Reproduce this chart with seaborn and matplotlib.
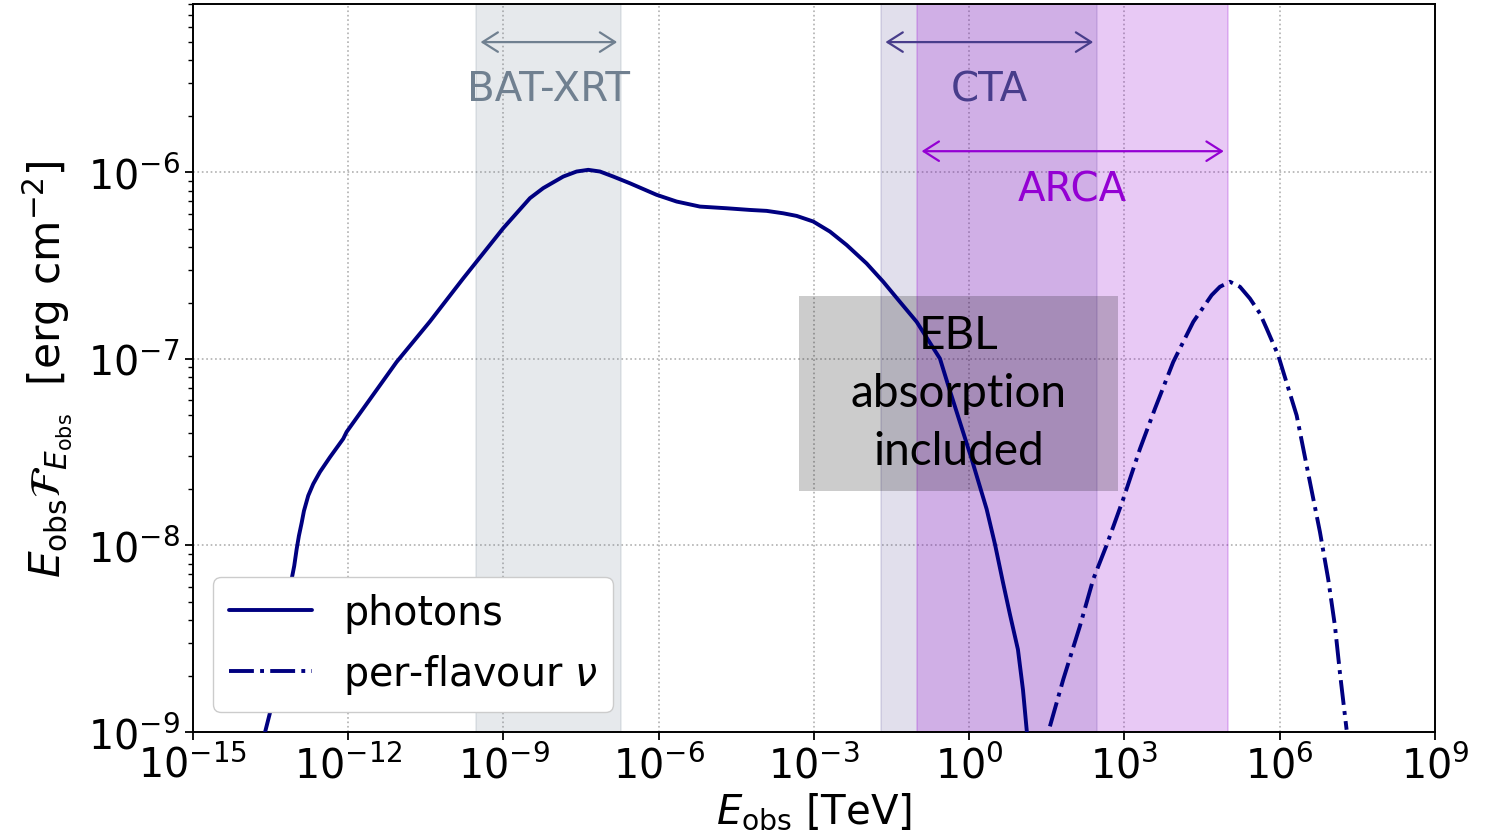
import numpy as np
import pandas as pd
import matplotlib
matplotlib.use("Agg")
import matplotlib.pyplot as plt
import seaborn as sns
from matplotlib.patches import Rectangle
from matplotlib.ticker import LogLocator, NullLocator, FixedLocator

# ---- data (log10 values) ----
photon_logE = [-13.75, -13.609, -13.512, -13.300, -13.093, -13.043, -12.996, -12.952,
               -12.900, -12.855, -12.772, -12.675, -12.546, -12.353, -12.096, -12.030,
               -11.064, -10.420, -9.777, -9.004, -8.488, -8.231, -7.844, -7.586,
               -7.361, -7.135, -6.878, -6.556, -6.040, -5.653, -5.203, -4.687,
               -4.237, -3.914, -3.593, -3.334, -3.014, -2.691, -2.368, -1.982,
               -1.661, -1.338, -1.015, -0.565, -0.405, -0.243, 0.047, 0.337,
               0.498, 0.652, 0.787, 0.942, 1.039, 1.116, 1.15]
photon_logF = [-9.60, -9.004, -8.898, -8.531, -8.181, -8.110, -8.020, -7.948,
               -7.880, -7.815, -7.733, -7.670, -7.606, -7.527, -7.428, -7.391,
               -7.016, -6.799, -6.568, -6.299, -6.138, -6.084, -6.022, -5.995,
               -5.986, -5.995, -6.022, -6.058, -6.120, -6.156, -6.183, -6.192,
               -6.201, -6.206, -6.219, -6.233, -6.263, -6.317, -6.389, -6.488,
               -6.586, -6.694, -6.801, -6.998, -7.142, -7.283, -7.536, -7.805,
               -7.993, -8.197, -8.369, -8.558, -8.773, -9.004, -9.30]

nu_logE = [1.560, 1.817, 2.140, 2.397, 2.656, 2.977, 3.300, 3.589, 3.943, 4.330,
           4.685, 4.845, 5.039, 5.232, 5.425, 5.618, 5.748, 5.972, 6.328, 6.585,
           6.778, 6.938, 7.068, 7.164, 7.293]
nu_logF = [-8.970, -8.719, -8.432, -8.181, -7.998, -7.751, -7.482, -7.267, -7.016, -6.801,
           -6.658, -6.613, -6.586, -6.613, -6.676, -6.756, -6.837, -6.981, -7.303, -7.661,
           -7.928, -8.181, -8.432, -8.683, -8.988]

series_labels = ["photons", "per-flavour $\\nu$"]

# instrument bands [TeV]
band_names = ["BAT-XRT", "CTA", "ARCA"]
band_lo = [3e-10, 0.02, 0.1]
band_hi = [1.9e-7, 300.0, 1e5]
band_colors = ["slategray", "darkslateblue", "darkviolet"]
band_alpha = [0.17, 0.16, 0.21]
arrow_y = [5.0e-6, 5.0e-6, 1.3e-6]
label_y = [2.80e-6, 2.80e-6, 8.1e-7]

# EBL note box
ebl_box_E = [10**-3.29, 10**2.87]
ebl_box_F = [10**-7.708, 10**-6.660]
ebl_text = "EBL\nabsorption\nincluded"

xtick_exps = [-15, -12, -9, -6, -3, 0, 3, 6, 9]
ylim = (1e-9, 8e-6)

# ---- figure ----
sns.set_style("ticks")
plt.rcParams["font.family"] = ["DejaVu Sans"]
plt.rcParams["mathtext.fontset"] = "dejavusans"
plt.rcParams["text.color"] = "black"
plt.rcParams["axes.labelcolor"] = "black"
plt.rcParams["xtick.color"] = "black"
plt.rcParams["ytick.color"] = "black"

fig = plt.figure(figsize=(14.91, 8.37), dpi=100)
ax = fig.add_axes([0.1294, 0.1243, 0.9624 - 0.1294, 0.994 - 0.1243])

df_ph = pd.DataFrame({"E": 10 ** np.array(photon_logE), "F": 10 ** np.array(photon_logF)})
df_nu = pd.DataFrame({"E": 10 ** np.array(nu_logE), "F": 10 ** np.array(nu_logF)})

for name, lo, hi, c, a in zip(band_names, band_lo, band_hi, band_colors, band_alpha):
    ax.axvspan(lo, hi, color=c, alpha=a, lw=1.2, zorder=1)

sns.lineplot(data=df_ph, x="E", y="F", ax=ax, color="navy", lw=2.8, sort=False,
             estimator=None, label=series_labels[0], zorder=5)
sns.lineplot(data=df_nu, x="E", y="F", ax=ax, color="navy", lw=2.8, sort=False,
             estimator=None, label=series_labels[1], zorder=5, linestyle="-.")

ax.set_xscale("log")
ax.set_yscale("log")
ax.set_xlim(10.0 ** xtick_exps[0], 10.0 ** xtick_exps[-1])
ax.set_ylim(*ylim)

# arrows + labels
for name, lo, hi, c, ay, ly in zip(band_names, band_lo, band_hi, band_colors, arrow_y, label_y):
    ax.annotate("", xy=(lo, ay), xytext=(hi, ay),
                arrowprops=dict(arrowstyle="<->,head_length=0.55,head_width=0.35",
                                color=c, lw=1.6, shrinkA=3, shrinkB=3,
                                mutation_scale=20), zorder=6)
    ax.text(np.sqrt(lo * hi), ly, name, color=c, fontsize=29, ha="center", va="center",
            zorder=6)

# EBL box
ax.add_patch(Rectangle((ebl_box_E[0], ebl_box_F[0]), ebl_box_E[1] - ebl_box_E[0],
                       ebl_box_F[1] - ebl_box_F[0], facecolor="black", alpha=0.2,
                       edgecolor="none", zorder=3))
ax.text(np.sqrt(ebl_box_E[0] * ebl_box_E[1]), np.sqrt(ebl_box_F[0] * ebl_box_F[1]),
        ebl_text, fontsize=33, family="Lato", ha="center", va="center",
        linespacing=1.47, color="black", zorder=7)

# ticks & grid
ax.xaxis.set_major_locator(FixedLocator([10.0 ** e for e in xtick_exps]))
ax.xaxis.set_minor_locator(NullLocator())
ax.yaxis.set_major_locator(LogLocator(base=10, numticks=20))
ax.yaxis.set_minor_locator(LogLocator(base=10, subs=np.arange(2, 10), numticks=20))
ax.tick_params(axis="both", which="major", labelsize=28.5, length=6, width=1.3,
               direction="out", colors="black")
ax.tick_params(axis="y", which="minor", length=3.5, width=1.0)
ax.grid(True, which="major", linestyle=":", color="#b0b0b0", lw=1.2, zorder=0)
for s in ax.spines.values():
    s.set_linewidth(1.4)
    s.set_color("black")

ax.set_xlabel(r"$E_{\rm obs}$ [TeV]", fontsize=29, labelpad=3)
ax.set_ylabel(r"$E_{\rm obs}\mathcal{F}_{E_{\rm obs}}$  [erg cm$^{-2}$]", fontsize=30.5,
              labelpad=10)

leg = ax.legend(loc="lower left", fontsize=28.5, frameon=True, fancybox=True,
                handlelength=2.1, framealpha=1.0)
leg.get_frame().set_edgecolor("#cccccc")
leg.set_zorder(10)

fig.savefig("out.png", dpi=100)
